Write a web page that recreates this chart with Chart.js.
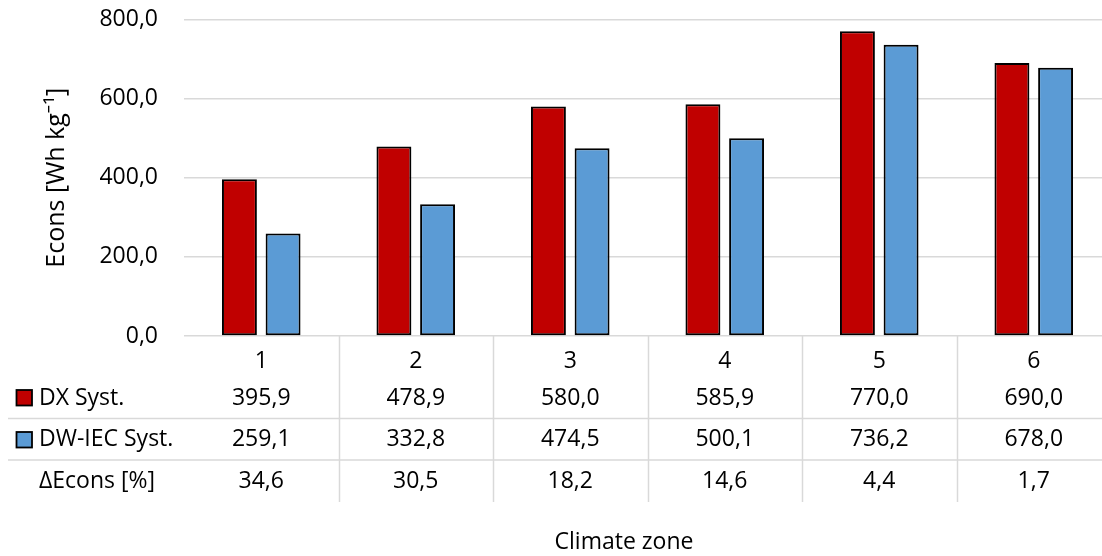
<!DOCTYPE html>
<html>
<head>
<meta charset="utf-8">
<script src="https://cdn.jsdelivr.net/npm/chart.js@4"></script>
<style>
  html, body { margin: 0; padding: 0; background: #fff; }
  #wrap { width: 1102px; height: 556px; position: relative; }
</style>
</head>
<body>
<div id="wrap"><canvas id="c" width="1102" height="556"></canvas></div>
<script>
// Climate zones and energy consumption per kg of removed water
const zones = ['1', '2', '3', '4', '5', '6'];
const dxSyst = [395.9, 478.9, 580.0, 585.9, 770.0, 690.0];
const dwIecSyst = [259.1, 332.8, 474.5, 500.1, 736.2, 678.0];
const deltaEcons = [34.6, 30.5, 18.2, 14.6, 4.4, 1.7];
const seriesNames = ['DX Syst.', 'DW-IEC Syst.'];
const deltaName = 'ΔEcons [%]';
const yTitle = 'Econs [Wh kg⁻¹]';
const xTitle = 'Climate zone';

const RED = '#C00000';
const BLUE = '#5B9BD5';
const GRID = '#d9d9d9';
const FONT = '"Open Sans", "Noto Sans", sans-serif';
const FS = 23;

// plot frame; the last column runs a little past the right edge of the canvas
const PLOT = { left: 184, right: 1111, top: 19.5, bottom: 336 };

const fmt = v => v.toFixed(1).replace('.', ',');

// Fixes the plot frame so the table columns below line up with it
const plotFrame = {
  id: 'plotFrame',
  afterLayout(chart) {
    const a = chart.chartArea;
    Object.assign(a, PLOT);
    a.width = PLOT.right - PLOT.left;
    a.height = PLOT.bottom - PLOT.top;
    const x = chart.scales.x, y = chart.scales.y;
    x.left = PLOT.left; x.right = PLOT.right; x.width = a.width;
    x.top = PLOT.bottom; x.bottom = chart.height; x.height = x.bottom - x.top;
    y.top = PLOT.top; y.bottom = PLOT.bottom; y.height = a.height;
    y.left = 0; y.right = PLOT.left; y.width = PLOT.left;
    x.configure();
    y.configure();
  }
};

// Data table drawn under the plot, aligned with the category columns
const dataTable = {
  id: 'dataTable',
  afterDraw(chart) {
    const ctx = chart.ctx;
    const x = chart.scales.x;
    const area = chart.chartArea;
    const step = (area.right - area.left) / zones.length;
    const rows = [
      { y: 398, values: dxSyst, label: seriesNames[0], color: RED, boxY: 390 },
      { y: 439, values: dwIecSyst, label: seriesNames[1], color: BLUE, boxY: 432 },
      { y: 481, values: deltaEcons, label: deltaName, color: null }
    ];
    ctx.save();
    ctx.strokeStyle = GRID;
    ctx.lineWidth = 1.5;
    ctx.beginPath();
    for (let k = 1; k <= zones.length; k++) {
      const px = Math.round(area.left + k * step) + 0.5;
      ctx.moveTo(px, area.bottom);
      ctx.lineTo(px, 502);
    }
    [418.5, 460].forEach(py => {
      ctx.moveTo(8, py);
      ctx.lineTo(chart.width, py);
    });
    ctx.stroke();

    ctx.font = FS + 'px ' + FONT;
    ctx.textBaseline = 'middle';
    rows.forEach(r => {
      if (r.color) {
        ctx.fillStyle = r.color;
        ctx.fillRect(16.5, r.boxY, 15.5, 15.5);
        ctx.strokeStyle = '#000';
        ctx.lineWidth = 1.8;
        ctx.strokeRect(16.5, r.boxY, 15.5, 15.5);
      }
      ctx.fillStyle = '#000';
      ctx.textAlign = 'left';
      ctx.fillText(r.label, 39, r.y);
      ctx.textAlign = 'center';
      r.values.forEach((v, i) => {
        ctx.fillText(fmt(v), x.getPixelForValue(i), r.y);
      });
    });
    ctx.textAlign = 'center';
    ctx.fillText(xTitle, 624, 542);
    ctx.restore();
  }
};

new Chart(document.getElementById('c'), {
  type: 'bar',
  data: {
    labels: zones,
    datasets: [
      { label: seriesNames[0], data: dxSyst, backgroundColor: RED, borderColor: '#000', borderWidth: 2, borderSkipped: false },
      { label: seriesNames[1], data: dwIecSyst, backgroundColor: BLUE, borderColor: '#000', borderWidth: 2, borderSkipped: false }
    ]
  },
  options: {
    responsive: false,
    animation: false,
    devicePixelRatio: 1,
    layout: { padding: { top: 19.5, right: 0, bottom: 0, left: 0 } },
    datasets: { bar: { categoryPercentage: 0.565, barPercentage: 0.8 } },
    plugins: { legend: { display: false }, tooltip: { enabled: false } },
    scales: {
      x: {
        grid: { display: false },
        border: { display: false },
        ticks: { color: '#000', font: { family: FONT, size: FS }, padding: 4 },
        afterFit(s) { s.height = 220; }
      },
      y: {
        min: 0,
        max: 800,
        ticks: {
          stepSize: 200,
          color: '#000',
          padding: 26,
          font: { family: FONT, size: FS },
          callback: v => fmt(v)
        },
        grid: { color: GRID, lineWidth: 1.5, drawTicks: false },
        border: { display: false },
        title: {
          display: true,
          text: yTitle,
          color: '#000',
          font: { family: FONT, size: 25 },
          padding: { top: 42, bottom: 0 }
        },
        afterFit(s) { s.width = 184; }
      }
    }
  },
  plugins: [plotFrame, dataTable]
});
</script>
</body>
</html>
